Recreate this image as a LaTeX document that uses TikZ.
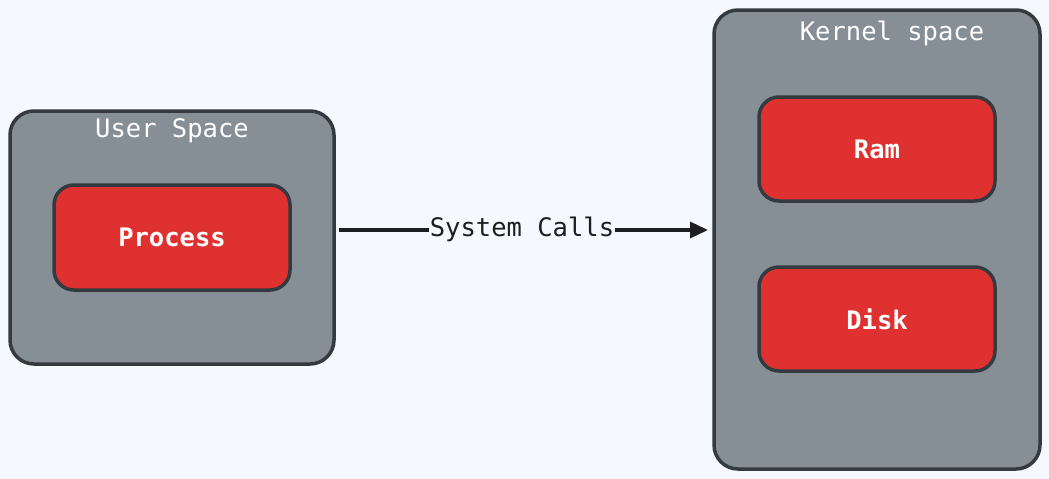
\documentclass[tikz,border=0pt]{standalone}
\usepackage{fontspec}
\setmonofont{DejaVu Sans Mono}
\usetikzlibrary{arrows.meta}
\definecolor{bg}{HTML}{F5F9FD}
\definecolor{grayfill}{HTML}{868E96}
\definecolor{redfill}{HTML}{E03131}
\definecolor{edge}{HTML}{343A40}
\definecolor{ink}{HTML}{1E1E1E}
\tikzset{
  container/.style={draw=edge, fill=grayfill, line width=3.5pt, rounded corners=24pt},
  item/.style={draw=edge, fill=redfill, line width=3.5pt, rounded corners=20pt},
  whitelabel/.style={text=white, font=\ttfamily\fontsize{25.5}{28}\selectfont},
  itemlabel/.style={text=white, font=\ttfamily\bfseries\fontsize{25.5}{28}\selectfont},
  conn/.style={draw=ink, line width=3.5pt, -{Triangle[length=18pt,width=16pt]}},
}
\begin{document}
\begin{tikzpicture}[x=1pt,y=-1pt]
\fill[bg] (0,0) rectangle (1049,479);
\useasboundingbox (0,0) rectangle (1049,479);
% User space
\path[container] (10,111) rectangle (334,364);
\node[whitelabel] (usertitle) at (172,131) {User Space};
\node[item, minimum width=236pt, minimum height=105pt, inner sep=0pt] (process) at (172,237.5) {};
\node[itemlabel] (processlbl) at (process.center) {Process};
% Kernel space
\path[container] (714,10) rectangle (1040,469);
\node[whitelabel] (kerneltitle) at (892,33) {Kernel space};
\node[item, minimum width=236pt, minimum height=104pt, inner sep=0pt] (ram) at (877,149) {};
\node[itemlabel] (ramlbl) at (ram.center) {Ram};
\node[item, minimum width=236pt, minimum height=104pt, inner sep=0pt] (disk) at (877,319) {};
\node[itemlabel] (disklbl) at (disk.center) {Disk};
% connector
\coordinate (start) at (339,230);
\coordinate (end) at (708,230);
\draw[conn] (start) -- (end);
\node[fill=bg, inner xsep=1pt, inner ysep=2pt, text=ink, font=\ttfamily\fontsize{25.5}{28}\selectfont] (syscall) at (522,229) {System Calls};
\end{tikzpicture}
\end{document}
